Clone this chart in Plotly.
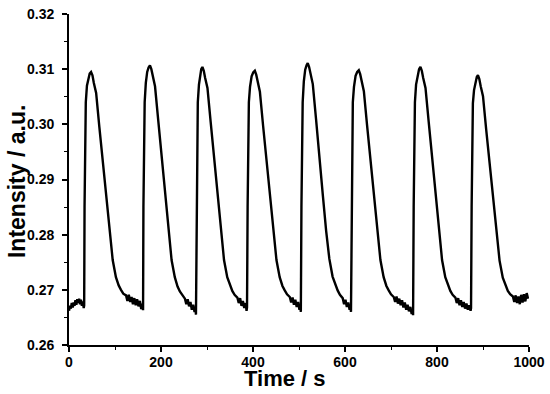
import plotly.graph_objects as go

# ---- data (time in s, intensity in a.u.) ----
t_base0 = [0, 2, 4, 6, 8, 10, 12, 14, 16, 18, 20, 22, 24, 26, 28, 30, 32, 33]
y_base0 = [0.2662, 0.2671, 0.2666, 0.2676, 0.2668, 0.2677, 0.2671, 0.2681, 0.2673, 0.2683,
           0.2676, 0.2684, 0.2674, 0.2682, 0.2671, 0.2679, 0.2667, 0.2672]

t_c1 = [33.8, 35, 36.5, 39, 42, 45, 48, 51, 54, 59, 66, 73, 81, 88, 95, 102, 108, 113, 118, 124,
        127, 130, 133, 136, 139, 142, 145, 148, 151, 154, 157, 160, 161]
y_c1 = [0.2850, 0.2980, 0.3040, 0.3070, 0.3085, 0.3092, 0.3095, 0.3089, 0.3075, 0.3057, 0.2995,
        0.2935, 0.2863, 0.2803, 0.2754, 0.2723, 0.2708, 0.2700, 0.2693, 0.2690,
        0.2680, 0.2691, 0.2678, 0.2687, 0.2674, 0.2685, 0.2672, 0.2683, 0.2670, 0.2680, 0.2665,
        0.2675, 0.2663]

t_c2 = [161.8, 163, 164.5, 167, 170, 173, 176, 179, 182, 187, 194, 201, 209, 216, 223, 230, 236,
        241, 246, 252, 255, 258, 261, 264, 267, 270, 273, 275, 276]
y_c2 = [0.2850, 0.2980, 0.3040, 0.3075, 0.3095, 0.3103, 0.3107, 0.3100, 0.3087, 0.3069, 0.3007,
        0.2947, 0.2870, 0.2805, 0.2754, 0.2723, 0.2706, 0.2697, 0.2690, 0.2684,
        0.2674, 0.2683, 0.2670, 0.2678, 0.2664, 0.2673, 0.2660, 0.2668, 0.2655]

t_c3 = [277.3, 278.5, 280, 282.5, 285, 287.5, 290, 293, 296, 301, 308, 315, 323, 330, 337, 344,
        350, 355, 360, 366, 369, 372, 375, 378, 381, 384, 386, 387]
y_c3 = [0.2850, 0.2980, 0.3040, 0.3072, 0.3092, 0.3100, 0.3104, 0.3097, 0.3084, 0.3066, 0.3004,
        0.2944, 0.2866, 0.2805, 0.2754, 0.2723, 0.2707, 0.2698, 0.2691, 0.2686,
        0.2676, 0.2685, 0.2671, 0.2680, 0.2667, 0.2676, 0.2662, 0.2668]

t_c4 = [388.3, 389.5, 391, 393.5, 397, 400.5, 404, 407, 410, 415, 422, 429, 437, 444, 451, 458,
        464, 469, 474, 480, 483, 486, 489, 492, 495, 498, 501, 503, 504]
y_c4 = [0.2850, 0.2980, 0.3040, 0.3068, 0.3087, 0.3094, 0.3097, 0.3090, 0.3077, 0.3059, 0.2997,
        0.2937, 0.2863, 0.2803, 0.2754, 0.2723, 0.2707, 0.2699, 0.2692, 0.2687,
        0.2677, 0.2686, 0.2673, 0.2682, 0.2669, 0.2678, 0.2664, 0.2672, 0.2660]

t_c5 = [505.3, 506.5, 508, 510.5, 513.5, 516.5, 519, 522, 525, 530, 537, 544, 552, 559, 566, 573,
        579, 584, 589, 595, 598, 601, 604, 607, 610, 612, 613]
y_c5 = [0.2850, 0.2980, 0.3040, 0.3078, 0.3099, 0.3107, 0.3111, 0.3104, 0.3090, 0.3073, 0.3010,
        0.2950, 0.2870, 0.2807, 0.2756, 0.2724, 0.2708, 0.2699, 0.2691, 0.2685,
        0.2674, 0.2682, 0.2669, 0.2677, 0.2664, 0.2671, 0.2660]

t_c6 = [614.3, 615.5, 617, 619.5, 623, 626.5, 630, 633, 636, 641, 648, 655, 663, 670, 677, 684,
        690, 695, 700, 706, 709, 712, 715, 718, 721, 724, 727, 730, 733, 736, 739, 742, 745, 747, 748]
y_c6 = [0.2850, 0.2980, 0.3040, 0.3068, 0.3088, 0.3095, 0.3098, 0.3091, 0.3078, 0.3060, 0.2998,
        0.2938, 0.2864, 0.2803, 0.2754, 0.2723, 0.2707, 0.2699, 0.2692, 0.2687,
        0.2678, 0.2688, 0.2675, 0.2684, 0.2672, 0.2681, 0.2668, 0.2677, 0.2664, 0.2673, 0.2661,
        0.2669, 0.2656, 0.2664, 0.2654]

t_c7 = [749.3, 750.5, 752, 754.5, 758, 761, 764, 767, 770, 775, 782, 789, 797, 804, 811, 818,
        824, 829, 834, 840, 843, 846, 849, 852, 855, 858, 861, 864, 867, 870, 873, 874]
y_c7 = [0.2850, 0.2980, 0.3040, 0.3072, 0.3092, 0.3100, 0.3104, 0.3097, 0.3084, 0.3066, 0.3004,
        0.2944, 0.2866, 0.2805, 0.2754, 0.2723, 0.2707, 0.2698, 0.2691, 0.2686,
        0.2676, 0.2685, 0.2672, 0.2681, 0.2669, 0.2678, 0.2666, 0.2675, 0.2664, 0.2672, 0.2662,
        0.2667]

t_c8 = [875.3, 876.5, 878, 880.5, 884, 886.5, 889, 892, 895, 900, 907, 914, 922, 929, 936, 943,
        949, 954, 959, 965, 968, 971, 974, 977, 980, 983, 986, 989, 992, 995, 998]
y_c8 = [0.2850, 0.2980, 0.3038, 0.3062, 0.3079, 0.3086, 0.3089, 0.3082, 0.3069, 0.3051, 0.2990,
        0.2931, 0.2860, 0.2801, 0.2753, 0.2722, 0.2707, 0.2698, 0.2692, 0.2688,
        0.2678, 0.2690, 0.2676, 0.2688, 0.2674, 0.2691, 0.2677, 0.2692, 0.2679, 0.2694, 0.2684]

x_ticks = [0, 200, 400, 600, 800, 1000]
y_ticks = [0.26, 0.27, 0.28, 0.29, 0.30, 0.31, 0.32]
y_tick_text = ["0.26", "0.27", "0.28", "0.29", "0.30", "0.31", "0.32"]

time = t_base0 + t_c1 + t_c2 + t_c3 + t_c4 + t_c5 + t_c6 + t_c7 + t_c8
intensity = y_base0 + y_c1 + y_c2 + y_c3 + y_c4 + y_c5 + y_c6 + y_c7 + y_c8

FONT = "Liberation Sans, Arial, sans-serif"

fig = go.Figure()
fig.add_trace(go.Scatter(x=time, y=intensity, mode="lines",
                         line=dict(color="black", width=2.4), showlegend=False))

axis_common = dict(showline=True, linecolor="black", linewidth=1.8, ticks="outside",
                   ticklen=5, tickwidth=1.6, tickcolor="black", showgrid=False,
                   zeroline=False, mirror=False, automargin=False,
                   tickfont=dict(family=FONT, size=14, color="black", weight="bold"))

fig.update_xaxes(range=[0, 1000], tickvals=x_ticks, ticklabelstandoff=-2,
                 minor=dict(ticks="outside", ticklen=3, tickwidth=1.4, tickcolor="black", dtick=100),
                 **axis_common)
fig.update_yaxes(range=[0.26, 0.32], tickvals=y_ticks, ticktext=y_tick_text, ticklabelstandoff=5,
                 minor=dict(ticks="outside", ticklen=3, tickwidth=1.4, tickcolor="black", dtick=0.005),
                 **axis_common)

fig.add_annotation(text="Time / s", xref="paper", yref="paper", x=0.4696, y=-0.1027,
                   xanchor="center", yanchor="middle", showarrow=False,
                   font=dict(family=FONT, size=22, color="black", weight="bold"))
fig.add_annotation(text="Intensity / a.u.", xref="paper", yref="paper", x=-0.113, y=0.4924,
                   xanchor="center", yanchor="middle", showarrow=False, textangle=-90,
                   font=dict(family=FONT, size=23, color="black", weight="bold"))

fig.update_layout(width=550, height=394, plot_bgcolor="white", paper_bgcolor="white",
                  margin=dict(l=69, r=21, t=14, b=49, autoexpand=False))

fig.write_html("out.html", config={"displayModeBar": False},
               post_script="document.body.style.margin='0';document.body.style.padding='0';")
